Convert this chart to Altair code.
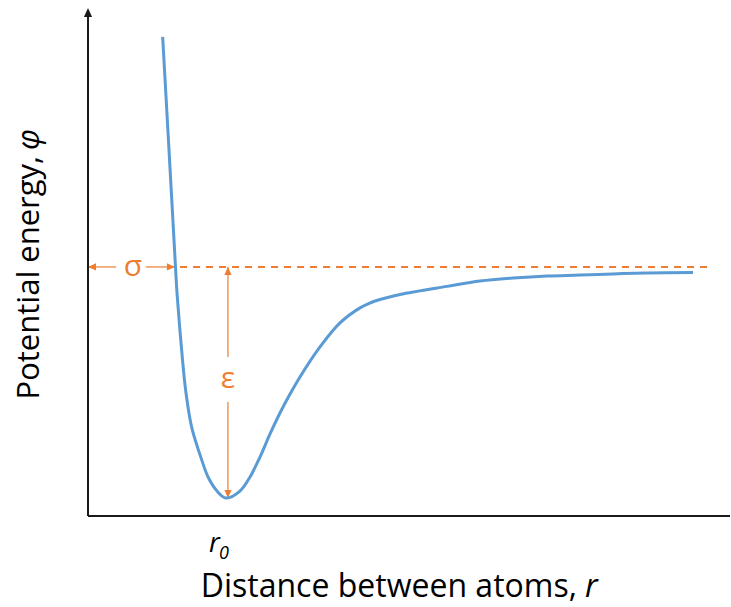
import altair as alt
import pandas as pd

# Interatomic potential: distance r (in units of r0) and energy phi (in units of epsilon)
r_vals = [0.541, 0.587, 0.634, 0.645, 0.685, 0.710, 0.751, 0.824, 0.870, 0.935,
          1.000, 1.101, 1.174, 1.246, 1.319, 1.391, 1.464, 1.536, 1.681, 1.826,
          1.971, 2.043, 2.116, 2.261, 2.601, 2.841, 3.080, 3.326, 3.565, 3.804,
          4.051, 4.384]
phi_vals = [0.996, 0.506, 0.000, -0.113, -0.403, -0.545, -0.693, -0.835, -0.909, -0.970,
            -1.000, -0.970, -0.909, -0.823, -0.723, -0.632, -0.550, -0.476, -0.346, -0.242,
            -0.177, -0.156, -0.141, -0.119, -0.084, -0.061, -0.048, -0.039, -0.035, -0.030,
            -0.026, -0.024]

R_RANGE = [0.0, 4.652]
PHI_RANGE = [-1.078, 1.121]

BLUE = "#5B9BD5"
ORANGE = "#ED7D31"
AXIS = "#1a1a1a"
FONT = "Open Sans"

# arrowhead paths with the tip at the anchor point
UP = "M0,0L-0.9,2L0.9,2Z"
DOWN = "M0,0L-0.9,-2L0.9,-2Z"
LEFT = "M0,0L2,-0.9L2,0.9Z"
RIGHT = "M0,0L-2,-0.9L-2,0.9Z"

xs = alt.Scale(domain=R_RANGE, nice=False, zero=False)
ys = alt.Scale(domain=PHI_RANGE, nice=False, zero=False)


def X(field="r"):
    return alt.X(f"{field}:Q", scale=xs, axis=None)


def Y(field="phi"):
    return alt.Y(f"{field}:Q", scale=ys, axis=None)


curve = alt.Chart(pd.DataFrame({"r": r_vals, "phi": phi_vals})).mark_line(
    color=BLUE, strokeWidth=3, interpolate="catmull-rom"
).encode(x=X(), y=Y())


def segments(rows, **style):
    return alt.Chart(pd.DataFrame(rows, columns=["r", "r2", "phi", "phi2"])).mark_rule(**style).encode(
        x=X(), x2="r2:Q", y=Y(), y2="phi2:Q"
    )


def heads(rows, shape, color, size):
    return alt.Chart(pd.DataFrame(rows, columns=["r", "phi"])).mark_point(
        shape=shape, filled=True, color=color, size=size, opacity=1, strokeWidth=0
    ).encode(x=X(), y=Y())


def label(r, phi, text, size, color="#000000", italic=False, align="center",
          baseline="middle", angle=0):
    props = dict(text=text, font=FONT, fontSize=size, color=color, align=align, baseline=baseline)
    if italic:
        props["fontStyle"] = "italic"
    if angle:
        props["angle"] = angle
    return alt.Chart(pd.DataFrame({"r": [r], "phi": [phi]})).mark_text(**props).encode(x=X(), y=Y())


# axes drawn as plain lines
axes = segments(
    [[0.0, 0.0, PHI_RANGE[0], 1.09], [0.0, R_RANGE[1], PHI_RANGE[0], PHI_RANGE[0]]],
    color=AXIS, strokeWidth=2,
)
y_arrow = heads([[0.0, PHI_RANGE[1]]], UP, AXIS, 81)

# zero-energy reference
zero_line = segments([[0.667, 4.522, 0.0, 0.0]], color=ORANGE, strokeWidth=2, strokeDash=[7, 6])

# sigma and epsilon dimension arrows
shafts = segments(
    [[0.0, 0.203, 0.0, 0.0], [0.420, 0.630, 0.0, 0.0],
     [1.014, 1.014, 0.0, -0.390], [1.014, 1.014, -0.584, -1.0]],
    color=ORANGE, strokeWidth=1.2,
)
tips = (
    heads([[0.0, 0.0]], LEFT, ORANGE, 64)
    + heads([[0.630, 0.0]], RIGHT, ORANGE, 64)
    + heads([[1.014, 0.0]], UP, ORANGE, 64)
    + heads([[1.014, -1.0]], DOWN, ORANGE, 64)
)

texts = (
    label(0.326, 0.0, "σ", 30, color=ORANGE)
    + label(1.014, -0.487, "ε", 30, color=ORANGE)
    + label(0.877, -1.234, "r", 27, italic=True, align="left", baseline="alphabetic")
    + label(0.949, -1.262, "0", 18, italic=True, align="left", baseline="alphabetic")
    + label(3.543, -1.429, "Distance between atoms,", 32, align="right", baseline="alphabetic")
    + label(3.601, -1.429, "r", 32, italic=True, align="left", baseline="alphabetic")
    + label(-0.420, 0.481, "Potential energy,", 31, align="right", angle=270)
    + label(-0.420, 0.506, "φ", 31, italic=True, align="left", angle=270)
)

chart = (
    alt.layer(zero_line, shafts, tips, axes, y_arrow, curve, texts)
    .properties(
        width=642,
        height=508,
        autosize=alt.AutoSizeParams(type="none"),
        padding={"left": 88, "top": 8, "right": 1, "bottom": 91},
    )
    .configure_view(stroke=None)
)

chart.save("out.html", embed_options={"renderer": "svg", "actions": False})
